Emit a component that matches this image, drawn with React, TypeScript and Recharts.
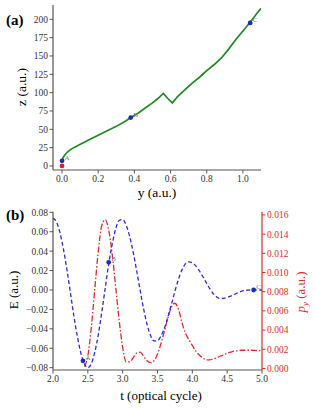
import React from "react";
import {
  ComposedChart,
  Line,
  Scatter,
  XAxis,
  YAxis,
} from "recharts";

// panel (a): trajectory in the y-z plane
const trajY = [0, 0.005, 0.015, 0.03, 0.05, 0.08, 0.12, 0.16, 0.2, 0.25, 0.3, 0.35, 0.38, 0.42, 0.46, 0.5, 0.53, 0.56, 0.585, 0.61, 0.64, 0.68, 0.72, 0.76, 0.8, 0.84, 0.88, 0.92, 0.96, 1.0, 1.04, 1.08, 1.1];
const trajZ = [7, 11, 15, 19, 23, 27, 32, 37, 42, 48, 54, 61, 66, 72, 79, 86, 92, 99, 92, 86, 95, 104, 113, 121, 130, 138, 147, 159, 172, 184, 196, 209, 215];

const markA = [
  { y: 0, z: 7, name: "A", kind: "blue" },
  { y: 0.38, z: 66, name: "B", kind: "blue" },
  { y: 1.04, z: 195, name: "C", kind: "blue" },
  { y: 0, z: 0, name: "", kind: "red" },
];

const yTicksA = [0, 0.2, 0.4, 0.6, 0.8, 1.0];
const zTicksA = [0, 25, 50, 75, 100, 125, 150, 175, 200];

// panel (b): field and momentum vs time
const tValues = [2.0, 2.05, 2.1, 2.15, 2.2, 2.25, 2.3, 2.35, 2.4, 2.45, 2.5, 2.55, 2.6, 2.65, 2.7, 2.75, 2.8, 2.85, 2.9, 2.95, 3.0, 3.05, 3.1, 3.15, 3.2, 3.25, 3.3, 3.35, 3.4, 3.45, 3.5, 3.55, 3.6, 3.65, 3.7, 3.75, 3.8, 3.85, 3.9, 3.95, 4.0, 4.05, 4.1, 4.15, 4.2, 4.25, 4.3, 4.35, 4.4, 4.45, 4.5, 4.55, 4.6, 4.65, 4.7, 4.75, 4.8, 4.85, 4.9, 4.95, 5.0];
const eValues = [0.074, 0.07, 0.059, 0.042, 0.021, -0.003, -0.027, -0.048, -0.065, -0.076, -0.08, -0.076, -0.064, -0.046, -0.023, 0.002, 0.027, 0.047, 0.063, 0.0715, 0.0725, 0.0668, 0.0553, 0.0393, 0.0201, 0.0, -0.0193, -0.0353, -0.0468, -0.0525, -0.0522, -0.0475, -0.0392, -0.0277, -0.0147, -0.0014, 0.0108, 0.0205, 0.0268, 0.029, 0.0279, 0.0248, 0.0198, 0.0139, 0.0075, 0.0014, -0.0037, -0.0072, -0.0088, -0.0086, -0.0077, -0.0064, -0.0047, -0.003, -0.0015, -0.0006, -0.0001, 0.0, 0.0, 0.0, 0.0];
const pValues = [null, null, null, null, null, null, null, null, null, 0.0002, 0.0013, 0.0043, 0.0083, 0.0122, 0.0149, 0.0155, 0.0144, 0.0119, 0.0085, 0.005, 0.0022, 0.0007, 0.0007, 0.0011, 0.0016, 0.0017, 0.0013, 0.0008, 0.0006, 0.0008, 0.0015, 0.0026, 0.0039, 0.0053, 0.0064, 0.0068, 0.0062, 0.0048, 0.0037, 0.003, 0.0024, 0.0018, 0.0014, 0.0011, 0.0009, 0.0009, 0.001, 0.0011, 0.0013, 0.0014, 0.0016, 0.0017, 0.0018, 0.00185, 0.0019, 0.0019, 0.0019, 0.0019, 0.00188, 0.00186, 0.00185];

const markB = [
  { t: 2.43, E: -0.073, name: "A" },
  { t: 2.8, E: 0.0285, name: "B" },
  { t: 4.88, E: 0.0, name: "C" },
];

const tTicks = [2.0, 2.5, 3.0, 3.5, 4.0, 4.5, 5.0];
const eTicks = [-0.08, -0.06, -0.04, -0.02, 0, 0.02, 0.04, 0.06, 0.08];
const pTicks = [0, 0.002, 0.004, 0.006, 0.008, 0.01, 0.012, 0.014, 0.016];

const FONT = "Liberation Serif, DejaVu Serif, serif";
const AXIS = "#555";
const FRAME = "#999";
const RED = "#e02a2a";
const tick = { fontFamily: FONT, fontSize: 9.5, fill: "#333" };

const minus = (s: string) => s.replace("-", "\u2212");

function Marker(props: any) {
  const { cx, cy, payload } = props;
  if (cx == null || cy == null) return null;
  const fill = payload.kind === "red" ? "#f01818" : "#1a2fb0";
  return (
    <g>
      <circle cx={cx} cy={cy} r={2.4} fill={fill} />
      {payload.name ? (
        <text x={cx + 2.5} y={cy - 1} fontSize={7} fill="#777" fontFamily={FONT}>
          {payload.name}
        </text>
      ) : null}
    </g>
  );
}

const trajData = trajY.map((y, i) => ({ y, z: trajZ[i] }));
const timeData = tValues.map((t, i) => ({ t, E: eValues[i], p: pValues[i] }));

const abs = (x: number, y: number): React.CSSProperties => ({
  position: "absolute",
  left: x,
  top: y,
  fontFamily: FONT,
  whiteSpace: "nowrap",
  lineHeight: 1,
});

export default function App() {
  return (
    <div style={{ position: "absolute", left: 0, top: 0, width: 315, height: 414, background: "#fff", fontFamily: FONT }}>
      <div style={{ position: "absolute", left: 0, top: 0 }}>
        <ComposedChart width={315} height={210} data={trajData} margin={{ top: 5, right: 54, left: 0, bottom: 0 }}>
          <XAxis xAxisId="top" orientation="top" type="number" dataKey="y" domain={[-0.05, 1.1]} height={0} tick={false} tickLine={false} axisLine={{ stroke: FRAME, strokeWidth: 1.2 }} />
          <YAxis yAxisId="right" orientation="right" type="number" domain={[-5.5, 219.5]} width={0} tick={false} tickLine={false} axisLine={{ stroke: FRAME, strokeWidth: 1.2 }} />
          <XAxis
            type="number"
            dataKey="y"
            domain={[-0.05, 1.1]}
            ticks={yTicksA}
            tickFormatter={(v) => v.toFixed(1)}
            height={40}
            tick={tick}
            tickSize={3.5}
            tickMargin={2}
            axisLine={{ stroke: AXIS, strokeWidth: 1.2 }}
            tickLine={{ stroke: AXIS }}
            allowDataOverflow
          />
          <YAxis
            type="number"
            dataKey="z"
            domain={[-5.5, 219.5]}
            ticks={zTicksA}
            width={53}
            tick={tick}
            tickSize={3.5}
            tickMargin={1.5}
            axisLine={{ stroke: AXIS, strokeWidth: 1.2 }}
            tickLine={{ stroke: AXIS }}
            allowDataOverflow
          />
          <Line type="linear" dataKey="z" stroke="#1f8a22" strokeWidth={1.7} dot={false} isAnimationActive={false} />
          <Scatter data={markA} dataKey="z" shape={<Marker />} isAnimationActive={false} />
        </ComposedChart>
      </div>

      <div style={{ position: "absolute", left: 0, top: 200 }}>
        <ComposedChart width={315} height={214} data={timeData} margin={{ top: 11.7, right: 0, left: 0, bottom: 0 }}>
          <XAxis xAxisId="top" orientation="top" type="number" dataKey="t" domain={[2, 5]} height={0} tick={false} tickLine={false} axisLine={{ stroke: FRAME, strokeWidth: 1.2 }} />
          <XAxis
            type="number"
            dataKey="t"
            domain={[2, 5]}
            ticks={tTicks}
            tickFormatter={(v) => v.toFixed(1)}
            height={44}
            tick={tick}
            tickSize={3.5}
            tickMargin={2}
            axisLine={{ stroke: AXIS, strokeWidth: 1.2 }}
            tickLine={{ stroke: AXIS }}
          />
          <YAxis
            yAxisId="left"
            type="number"
            domain={[-0.0824, 0.0806]}
            ticks={eTicks}
            tickFormatter={(v) => minus(v.toFixed(2))}
            width={53}
            tick={tick}
            tickSize={3.5}
            tickMargin={1.5}
            axisLine={{ stroke: AXIS, strokeWidth: 1.2 }}
            tickLine={{ stroke: AXIS }}
            allowDataOverflow
          />
          <YAxis
            yAxisId="right"
            orientation="right"
            type="number"
            domain={[-0.00016, 0.01634]}
            ticks={pTicks}
            tickFormatter={(v) => v.toFixed(3)}
            width={53}
            tick={{ ...tick, fill: RED }}
            tickSize={3.5}
            tickMargin={1.5}
            axisLine={{ stroke: RED, strokeWidth: 1.2 }}
            tickLine={{ stroke: RED }}
            allowDataOverflow
          />
          <Line yAxisId="right" type="monotone" dataKey="p" stroke={RED} strokeWidth={1.3} strokeDasharray="6 2 1.5 2" dot={false} isAnimationActive={false} />
          <Line yAxisId="left" type="monotone" dataKey="E" stroke="#2b2bd6" strokeWidth={1.3} strokeDasharray="4 2.5" dot={false} isAnimationActive={false} />
          <Scatter yAxisId="left" data={markB} dataKey="E" shape={<Marker />} isAnimationActive={false} />
        </ComposedChart>
      </div>

      {/* titles */}
      <div style={{ ...abs(6, 13), fontSize: 15, fontWeight: "bold" }}>(a)</div>
      <div style={{ ...abs(6, 208), fontSize: 15, fontWeight: "bold" }}>(b)</div>
      <div style={{ ...abs(21.5, 87), fontSize: 13.5, transform: "translate(-50%, -50%) rotate(-90deg)" }}>z (a.u.)</div>
      <div style={{ ...abs(157, 193), fontSize: 13.5, transform: "translate(-50%, -50%)" }}>y (a.u.)</div>
      <div style={{ ...abs(13, 290), fontSize: 13, transform: "translate(-50%, -50%) rotate(-90deg)" }}>E (a.u.)</div>
      <div style={{ ...abs(161, 395), fontSize: 13, transform: "translate(-50%, -50%)" }}>t (optical cycle)</div>
      <div style={{ ...abs(302, 292), fontSize: 13, color: RED, transform: "translate(-50%, -50%) rotate(-90deg)" }}>
        <i>p</i>
        <sub style={{ fontSize: 9, fontStyle: "italic" }}>y</sub> (a.u.)
      </div>
    </div>
  );
}
